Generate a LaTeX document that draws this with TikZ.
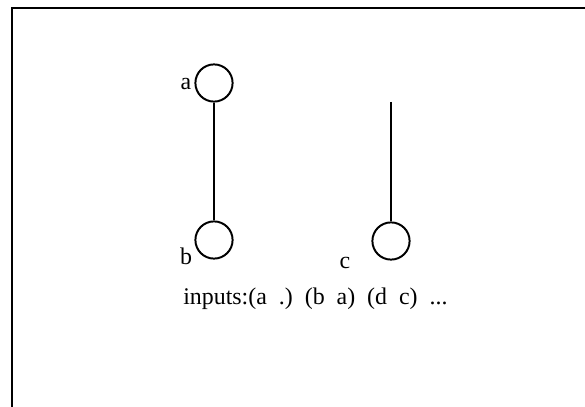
\documentclass[tikz,border=0pt]{standalone}
\usepackage{fontspec}
\setmainfont{Liberation Serif}
\usetikzlibrary{positioning}

\begin{document}
\begin{tikzpicture}[
    x=0.025cm, y=-0.025cm,
    vert/.style={draw, circle, line width=1.4pt, minimum size=0.93cm, inner sep=0pt},
    lbl/.style={font=\fontsize{17}{19}\selectfont, inner sep=0pt},
    link/.style={line width=1.4pt},
]
\useasboundingbox (0,0) rectangle (585,407);
% open frame (left and top edges)
\draw[line width=1.6pt] (12,407) -- (12,8) -- (585,8);
\node[vert] (a) at (214,83) {};
\node[vert] (b) at (214,240) {};
\node[vert] (c) at (391,241) {};
\coordinate (ctop) at (391,102);
\node[lbl, anchor=base] (la) at (186,90) {a};
\node[lbl, anchor=base] (lb) at (186,264) {b};
\node[lbl, anchor=base] (lc) at (345,268) {c};
\node[lbl, anchor=base west] (inp) at (183,304)
   {inputs:(a\ \ .)\ \ (b\ \ a)\ \ (d\ \ c)\ \ ...};
\draw[link] (a) -- (b);
\draw[link] (ctop) -- (c);
\end{tikzpicture}
\end{document}
